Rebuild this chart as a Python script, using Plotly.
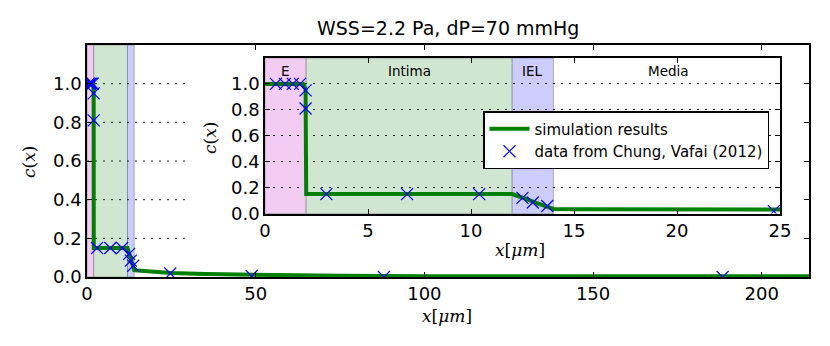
import plotly.graph_objects as go

# ---------------- data ----------------
title_text = "WSS=2.2 Pa, dP=70 mmHg"

sim_x = [0, 1.85, 1.97, 2.0, 12.0, 12.4, 12.8, 13.2, 13.6, 14.0, 15.0, 17.0, 20.0, 25.0, 35.0, 50.0, 75.0, 100.0, 150.0, 200.0, 214.0]
sim_c = [1.0, 1.0, 0.96, 0.15, 0.15, 0.13, 0.105, 0.08, 0.055, 0.035, 0.033, 0.030, 0.026, 0.021, 0.015, 0.010, 0.006, 0.004, 0.003, 0.003, 0.004]

data_x = [0.53, 0.97, 1.35, 1.7, 1.97, 1.97, 2.98, 6.9, 10.4, 12.5, 13.0, 13.7, 24.7, 48.8, 88.0, 188.4]
data_c = [1.0, 1.0, 1.0, 1.0, 0.95, 0.81, 0.15, 0.15, 0.15, 0.12, 0.085, 0.058, 0.018, 0.005, 0.0, 0.0]

layer_names = ["E", "Intima", "IEL", "Media"]
layer_start = [0, 2, 12, 14]
layer_end = [2, 12, 14, 25]
layer_label_x = [1, 7, 13, 19.6]
layer_colors = ["rgb(242,204,242)", "rgb(208,230,208)", "rgb(204,204,255)", None]

main_xticks = [0, 50, 100, 150, 200]
inset_xticks = [0, 5, 10, 15, 20, 25]
yticks = [0.0, 0.2, 0.4, 0.6, 0.8, 1.0]
main_grid_y = [0.2, 0.4, 0.6, 0.8, 1.0]

# ---------------- geometry (reference pixels; page body has an 8px margin) ----------------
OFF = 8
W, H = 830 - OFF, 346 - OFF
L, R, T, B = 87, 809, 45, 277
PW, PH = R - L, B - T


def px(xp):
    return (xp - L) / PW


def py(yp):
    return (B - yp) / PH


# ---------------- figure ----------------
fig = go.Figure()

line_style = dict(color="#008000", width=4)
marker_style = dict(symbol="x-thin-open", size=12, line=dict(color="#0000ff", width=1.2), color="#0000ff")

fig.add_trace(go.Scatter(x=sim_x, y=sim_c, mode="lines", line=line_style,
                         name="simulation results", xaxis="x", yaxis="y", showlegend=True))
fig.add_trace(go.Scatter(x=data_x, y=data_c, mode="markers", marker=marker_style,
                         name="data from Chung, Vafai (2012)", xaxis="x", yaxis="y", showlegend=True))
fig.add_trace(go.Scatter(x=sim_x, y=sim_c, mode="lines", line=line_style,
                         xaxis="x2", yaxis="y2", showlegend=False))
fig.add_trace(go.Scatter(x=data_x, y=data_c, mode="markers", marker=marker_style,
                         xaxis="x2", yaxis="y2", showlegend=False))

shapes = []
for xr, yr in (("x", "y domain"), ("x2", "y2 domain")):
    for s, e, c in zip(layer_start, layer_end, layer_colors):
        if c is None:
            continue
        shapes.append(dict(type="rect", xref=xr, yref=yr, x0=s, x1=e, y0=0, y1=1,
                           fillcolor=c, line=dict(color="rgba(0,0,0,0.25)", width=1),
                           layer="below"))
# main-axes dotted grid, visible only left of the inset block (drawn over the shading)
for g in main_grid_y:
    shapes.append(dict(type="line", xref="paper", yref="y", x0=0, x1=px(188), y0=g, y1=g,
                       line=dict(color="#222", width=1, dash="2px,6px"), layer="below"))
fig.update_layout(shapes=shapes)

for name, x in zip(layer_names, layer_label_x):
    fig.add_annotation(x=x, y=1.1, xref="x2", yref="y2", text=name, showarrow=False,
                       font=dict(family="DejaVu Sans", size=13.5, color="black"))

# title and axis labels
fig.add_annotation(x=px(448), y=py(28), xref="paper", yref="paper", text=title_text, showarrow=False,
                   xanchor="center", yanchor="middle", font=dict(family="DejaVu Sans", size=19, color="black"))
lab_font = dict(family="DejaVu Serif", size=17, color="black")
fig.add_annotation(x=px(447), y=py(316), xref="paper", yref="paper", text="<i>x</i>[<i>μm</i>]",
                   showarrow=False, xanchor="center", yanchor="middle", font=lab_font)
fig.add_annotation(x=px(29), y=py(162), xref="paper", yref="paper", text="<i>c</i>(<i>x</i>)",
                   showarrow=False, xanchor="center", yanchor="middle", textangle=-90, font=lab_font)
fig.add_annotation(x=px(520), y=py(250), xref="paper", yref="paper", text="<i>x</i>[<i>μm</i>]",
                   showarrow=False, xanchor="center", yanchor="middle", font=lab_font)
fig.add_annotation(x=px(210), y=py(138), xref="paper", yref="paper", text="<i>c</i>(<i>x</i>)",
                   showarrow=False, xanchor="center", yanchor="middle", textangle=-90, font=lab_font)

axis_common = dict(showline=True, linecolor="black", linewidth=1.5, mirror="ticks",
                   ticks="inside", ticklen=5, tickcolor="black", zeroline=False, automargin=False,
                   tickfont=dict(family="DejaVu Sans", size=18, color="black"))

fig.update_layout(
    width=W, height=H,
    margin=dict(l=L - OFF, r=830 - R, t=T - OFF, b=346 - B, autoexpand=False),
    paper_bgcolor="white", plot_bgcolor="rgba(0,0,0,0)",
    xaxis=dict(domain=[0, 1], range=[0, 214], tickvals=main_xticks, showgrid=False, **axis_common),
    yaxis=dict(domain=[0, 1], range=[0, 1.2], tickvals=yticks, tickformat=".1f", showgrid=False,
               **axis_common),
    xaxis2=dict(domain=[px(265), px(780)], anchor="y2", range=[0, 25], tickvals=inset_xticks,
                showgrid=False, **axis_common),
    yaxis2=dict(domain=[py(213.5), py(58)], anchor="x2", range=[0, 1.2], tickvals=yticks, tickformat=".1f",
                showgrid=True, gridcolor="#222", griddash="2px,6px", gridwidth=1, **axis_common),
    legend=dict(x=px(483), y=py(111), xanchor="left", yanchor="top",
                bgcolor="white", bordercolor="black", borderwidth=1.5,
                font=dict(family="DejaVu Sans", size=15, color="black"),
                tracegroupgap=0, itemwidth=40),
    showlegend=True,
)

fig.write_html("out.html")
